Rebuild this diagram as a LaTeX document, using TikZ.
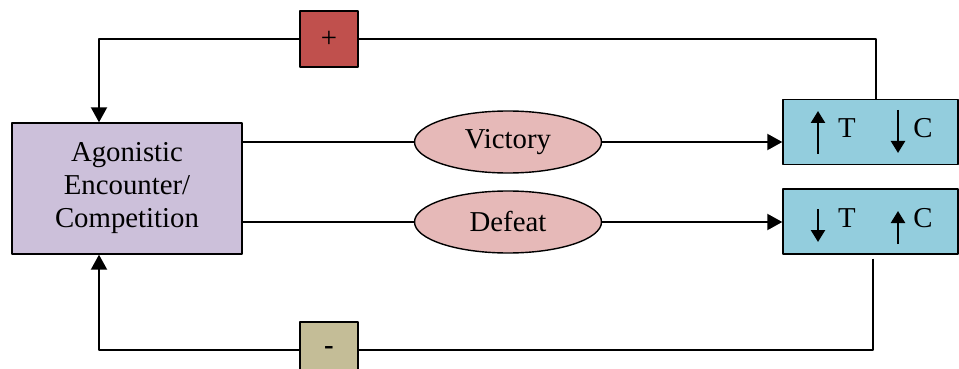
\documentclass[tikz,border=0pt]{standalone}
\usepackage{fontspec}
\setmainfont{Liberation Serif}
\usetikzlibrary{arrows.meta,shapes.geometric}

\definecolor{encfill}{HTML}{CCC0DA}
\definecolor{outfill}{HTML}{E6B9B8}
\definecolor{hfill}{HTML}{93CDDD}
\definecolor{plusred}{HTML}{C0504D}
\definecolor{minustan}{HTML}{C4BD97}

\begin{document}
\begin{tikzpicture}[line join=round,>={Triangle[length=7.5pt,width=8pt]},x=0.5pt,y=-0.5pt,
  every node/.style={font=\fontsize{14.4}{16.5}\selectfont},
  encbox/.style={draw,fill=encfill,line width=0.7pt,minimum width=115pt,minimum height=65.5pt,align=center},
  outcome/.style={draw,ellipse,fill=outfill,line width=0.7pt,minimum width=93.5pt,minimum height=31pt,inner sep=0pt},
  hbox/.style={draw,fill=hfill,line width=0.7pt,minimum width=87.5pt,minimum height=32.5pt},
  signbox/.style={draw,line width=0.7pt,minimum width=29pt,minimum height=28pt},
  thinline/.style={line width=0.7pt},
  thickline/.style={line width=1pt},
  updown/.style={line width=1.2pt,-{Triangle[length=6pt,width=7pt]}}]
\useasboundingbox (0,0) rectangle (959,369);
% main boxes
\node[encbox] (enc) at (127,188.5) {Agonistic\\Encounter/\\Competition};
\node[outcome] (vic) at (508,142) {Victory};
\node[outcome] (def) at (508,222) {Defeat};
\node[hbox] (hwin) at (870.5,132) {};
\node[hbox] (hlose) at (870.5,221.5) {};
\node[signbox,fill=plusred] (plus) at (329,39) {+};
\node[signbox,fill=minustan] (minus) at (329,350) {\textbf{-}};
% hormone labels
\node (twin) at (847,128) {T};
\node (cwin) at (923,128) {C};
\node (tlose) at (847,218) {T};
\node (close) at (923,218) {C};
\draw[updown] (818,154) -- (818,111);
\draw[updown] (898,110) -- (898,153);
\draw[updown] (818,209) -- (818,242);
\draw[updown] (898,244) -- (898,211);
% outcomes
\draw[thinline] (enc.east |- vic) -- (vic);
\draw[thickline,->] (vic) -- (vic -| hwin.west);
\draw[thinline] (enc.east |- def) -- (def);
\draw[thickline,->] (def) -- (def -| hlose.west);
% feedback
\draw[thinline] ([xshift=2.75pt]hwin.north) |- (plus);
\draw[thickline,->] (plus) -| ([xshift=-14pt]enc.north);
\draw[thinline] ([xshift=1.25pt,yshift=-2pt]hlose.south) |- (minus);
\draw[thickline,->] (minus) -| ([xshift=-14pt]enc.south);
\end{tikzpicture}
\end{document}
